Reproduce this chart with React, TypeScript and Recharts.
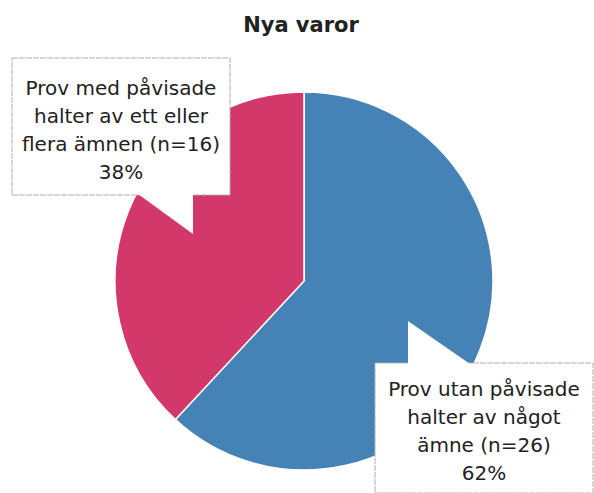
import React from 'react';
import { PieChart, Pie, Cell } from 'recharts';

const title = 'Nya varor';
const categories = ['Prov utan påvisade halter av något ämne', 'Prov med påvisade halter av ett eller flera ämnen'];
const counts = [26, 16];
const percents = [62, 38];
const labelLines = [
  ['Prov utan påvisade', 'halter av något', 'ämne (n=26)', '62%'],
  ['Prov med påvisade', 'halter av ett eller', 'flera ämnen (n=16)', '38%'],
];
const colors = ['#4582b6', '#d3386b'];

const data = categories.map((name, i) => ({ name, value: counts[i], pct: percents[i] }));

const FONT = '"DejaVu Sans", "Noto Sans", sans-serif';

// callout box + pointer, offsets from pie centre
const callouts = [
  { x: 71, y: 82, w: 218, h: 130, tip: [104, 39], base: [104, 166] },
  { x: -292, y: -223, w: 218, h: 137, tip: [-111, -46], base: [-166, -111] },
];

const renderCallout = (props: any) => {
  const { cx, cy, index } = props;
  const c = callouts[index];
  const left = cx + c.x;
  const top = cy + c.y;
  const lines = labelLines[index];
  // pointer sits on bottom edge (above pie) or top edge (below pie)
  const above = c.tip[1] < c.y;
  const edgeY = above ? top : top + c.h;
  const pointer = `M${cx + c.base[0]},${edgeY} L${cx + c.tip[0]},${cy + c.tip[1]} L${cx + c.base[1]},${edgeY} Z`;
  const midX = left + c.w / 2;
  const lh = 28;
  const firstY = top + c.h / 2 - (lh * (lines.length - 1)) / 2 + 3;
  return (
    <g key={`callout-${index}`}>
      <rect x={left} y={top} width={c.w} height={c.h} fill="#fff" stroke="#b0b0b0" strokeWidth={1} strokeDasharray="6 1" />
      <path d={pointer} fill="#fff" stroke="none" transform={`translate(0, ${above ? 1 : -1})`} />
      {lines.map((t, i) => (
        <text
          key={i}
          x={midX}
          y={firstY + i * lh}
          textAnchor="middle"
          dominantBaseline="central"
          fontFamily={FONT}
          fontSize={20}
          fill="#222"
        >
          {t}
        </text>
      ))}
    </g>
  );
};

export default function App() {
  return (
    <div style={{ position: 'absolute', left: 0, top: 0, width: 594, height: 493, background: '#fff' }}>
      <div
        style={{
          position: 'absolute',
          left: 0,
          top: 13,
          width: 602,
          textAlign: 'center',
          fontFamily: FONT,
          fontWeight: 700,
          fontSize: 21,
          color: '#222',
        }}
      >
        {title}
      </div>
      <PieChart width={594} height={493}>
        <Pie
          data={data}
          dataKey="value"
          nameKey="name"
          cx={299}
          cy={276}
          outerRadius={189}
          startAngle={90}
          endAngle={-270}
          stroke="#fff"
          strokeWidth={1.5}
          labelLine={false}
          label={renderCallout}
          isAnimationActive={false}
        >
          {data.map((d, i) => (
            <Cell key={d.name} fill={colors[i]} />
          ))}
        </Pie>
      </PieChart>
    </div>
  );
}
